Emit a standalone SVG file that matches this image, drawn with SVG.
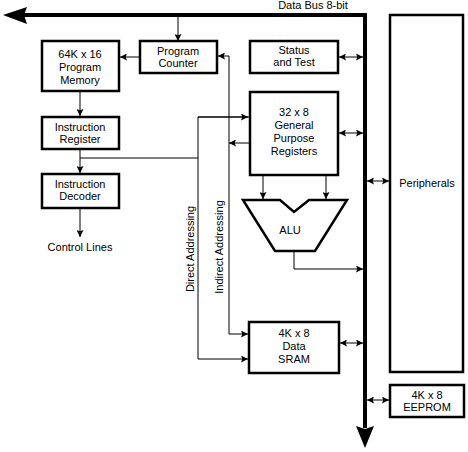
<svg xmlns="http://www.w3.org/2000/svg" width="468" height="452" viewBox="0 0 468 452">
<defs>
<style>
.box{fill:#fff;stroke:#000;stroke-width:2.5}
.ln{fill:none;stroke:#000;stroke-width:1}
.bus{fill:none;stroke:#000;stroke-width:4;stroke-linejoin:miter}
text{font-family:"Liberation Sans",Arial,sans-serif;font-size:11px;fill:#000;text-anchor:middle}
</style>
<marker id="ah" viewBox="0 0 8 8" refX="8" refY="4" markerWidth="7" markerHeight="7" markerUnits="userSpaceOnUse" orient="auto-start-reverse">
<path d="M0,0 L8,4 L0,8 L1.5,4 z" fill="#000"/>
</marker>
</defs>
<rect width="468" height="452" fill="#fff"/>
<g id="bus">
<path class="bus" d="M24,15 H365 V428"/>
<polygon points="3,15 27,7 24,15 27,24" fill="#000"/>
<polygon points="365,448 356,426 365,429 374,426" fill="#000"/>
<text x="313" y="9">Data Bus 8-bit</text>
</g>
<g id="connectors">
<line class="ln" x1="178" y1="17" x2="178" y2="41" marker-end="url(#ah)"/>
<line class="ln" x1="140" y1="57" x2="120" y2="57" marker-end="url(#ah)"/>
<line class="ln" x1="80" y1="92" x2="80" y2="116" marker-end="url(#ah)"/>
<polyline class="ln" points="80,150 80,158 198,158"/>
<line class="ln" x1="80" y1="158" x2="80" y2="173" marker-end="url(#ah)"/>
<line class="ln" x1="80" y1="209" x2="80" y2="237" marker-end="url(#ah)"/>
<polyline class="ln" points="249,117 198,117 198,359 248,359" marker-end="url(#ah)"/>
<line class="ln" x1="198" y1="117" x2="248" y2="117" marker-end="url(#ah)"/>
<polyline class="ln" points="229,56 229,334 248,334" marker-end="url(#ah)"/>
<line class="ln" x1="229" y1="56" x2="218" y2="56" marker-end="url(#ah)"/>
<line class="ln" x1="250" y1="143" x2="229" y2="143" marker-end="url(#ah)"/>
<line class="ln" x1="339" y1="57" x2="363" y2="57" marker-start="url(#ah)" marker-end="url(#ah)"/>
<line class="ln" x1="339" y1="133" x2="363" y2="133" marker-start="url(#ah)" marker-end="url(#ah)"/>
<line class="ln" x1="263" y1="176" x2="263" y2="199" marker-end="url(#ah)"/>
<line class="ln" x1="326" y1="176" x2="326" y2="199" marker-end="url(#ah)"/>
<polyline class="ln" points="294,251 294,269 363,269" marker-end="url(#ah)"/>
<line class="ln" x1="340" y1="343" x2="363" y2="343" marker-start="url(#ah)" marker-end="url(#ah)"/>
<line class="ln" x1="367" y1="181" x2="389" y2="181" marker-start="url(#ah)" marker-end="url(#ah)"/>
<line class="ln" x1="367" y1="400" x2="389" y2="400" marker-start="url(#ah)" marker-end="url(#ah)"/>
<text x="80" y="251">Control Lines</text>
<text transform="translate(194,249) rotate(-90)">Direct Addressing</text>
<text transform="translate(223,247) rotate(-90)">Indirect Addressing</text>
</g>
<g id="program-counter">
<rect class="box" x="140" y="41" width="77" height="32"/>
<text x="178" y="55">Program</text>
<text x="178" y="67">Counter</text>
</g>
<g id="program-memory">
<rect class="box" x="42" y="41" width="77" height="50"/>
<text x="80" y="58">64K x 16</text>
<text x="80" y="71">Program</text>
<text x="80" y="84">Memory</text>
</g>
<g id="instruction-register">
<rect class="box" x="42" y="117" width="77" height="32"/>
<text x="80" y="131">Instruction</text>
<text x="80" y="143">Register</text>
</g>
<g id="instruction-decoder">
<rect class="box" x="42" y="174" width="77" height="34"/>
<text x="80" y="188">Instruction</text>
<text x="80" y="200">Decoder</text>
</g>
<g id="status-test">
<rect class="box" x="250" y="41" width="88" height="32"/>
<text x="294" y="54">Status</text>
<text x="294" y="66">and Test</text>
</g>
<g id="registers">
<rect class="box" x="250" y="92" width="88" height="83"/>
<text x="294" y="116">32 x 8</text>
<text x="294" y="129">General</text>
<text x="294" y="142">Purpose</text>
<text x="294" y="155">Registers</text>
</g>
<g id="alu">
<polygon class="box" points="243,200 280,200 294,212 309,200 347,200 315,251 275,251"/>
<text x="290" y="234">ALU</text>
</g>
<g id="sram">
<rect class="box" x="249" y="322" width="90" height="51"/>
<text x="294" y="337">4K x 8</text>
<text x="294" y="350">Data</text>
<text x="294" y="363">SRAM</text>
</g>
<g id="peripherals">
<rect class="box" x="390" y="15" width="73" height="357"/>
<text x="427" y="187">Peripherals</text>
</g>
<g id="eeprom">
<rect class="box" x="390" y="385" width="74" height="32"/>
<text x="427" y="399">4K x 8</text>
<text x="427" y="411">EEPROM</text>
</g>
</svg>
